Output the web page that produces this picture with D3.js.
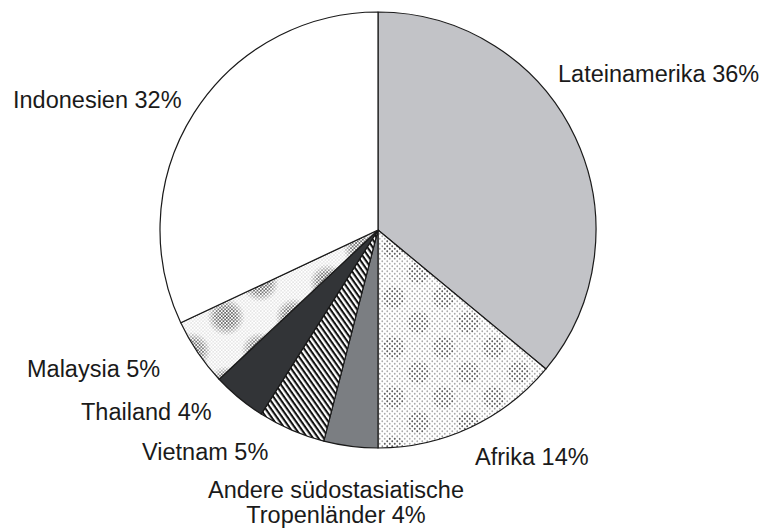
<!DOCTYPE html>
<html>
<head>
<meta charset="utf-8">
<script src="https://cdn.jsdelivr.net/npm/d3@7"></script>
<style>
  html, body { margin: 0; padding: 0; background: #fff; }
  svg { display: block; }
  text { font-family: "Liberation Sans", Arial, sans-serif; font-size: 23.5px; fill: #1a1a1a; }
</style>
</head>
<body>
<svg id="chart" width="778" height="530"></svg>
<script>
// Regions, in drawing order clockwise from twelve o'clock
const regions = ["Lateinamerika", "Afrika", "Andere südostasiatische Tropenländer",
                 "Vietnam", "Thailand", "Malaysia", "Indonesien"];
const shares = [36, 14, 4, 5, 4, 5, 32];
// Label lines for each region (the long one wraps onto two lines)
const labelLines = [
  ["Lateinamerika 36%"],
  ["Afrika 14%"],
  ["Andere südostasiatische", "Tropenländer 4%"],
  ["Vietnam 5%"],
  ["Thailand 4%"],
  ["Malaysia 5%"],
  ["Indonesien 32%"]
];

// Layout
const cx = 378, cy = 230, radius = 218;
const fills = ["#c2c3c7", "url(#afrika)", "#7b7e82", "url(#stripes)", "#323437", "url(#malaysia)", "#ffffff"];
// Label anchors: [x, baseline, text-anchor]
const labelPos = [
  [558, 82, "start"],
  [475, 465, "start"],
  [336, 498, "middle"],
  [142, 460, "start"],
  [81, 420, "start"],
  [27, 377, "start"],
  [13, 108, "start"]
];
const lineHeight = 25;

const svg = d3.select("#chart");
const defs = svg.append("defs");

// Fine dot screen for Afrika
const afrDots = defs.append("pattern").attr("id", "afrDots")
  .attr("patternUnits", "userSpaceOnUse").attr("width", 5).attr("height", 5);
afrDots.append("circle").attr("cx", 1.25).attr("cy", 1.25).attr("r", 0.9).attr("fill", "#444");
afrDots.append("circle").attr("cx", 3.75).attr("cy", 3.75).attr("r", 0.9).attr("fill", "#444");

// Afrika: dot screen modulated into soft blobs
const afr = defs.append("pattern").attr("id", "afrika")
  .attr("patternUnits", "userSpaceOnUse").attr("width", 50).attr("height", 50)
  .attr("x", cx).attr("y", cy);
afr.append("rect").attr("width", 50).attr("height", 50).attr("fill", "#fff");
afr.append("rect").attr("width", 50).attr("height", 50).attr("fill", "url(#afrDots)").attr("opacity", 0.45);
[[12.5, 12.5], [37.5, 37.5]].forEach(([x, y]) => {
  afr.append("circle").attr("cx", x).attr("cy", y).attr("r", 11)
    .attr("fill", "url(#afrDots)").attr("opacity", 0.75);
});

// Diagonal hatch for Vietnam
const stripes = defs.append("pattern").attr("id", "stripes")
  .attr("patternUnits", "userSpaceOnUse").attr("width", 4.4).attr("height", 4.4)
  .attr("patternTransform", "rotate(55)");
stripes.append("rect").attr("width", 4.4).attr("height", 4.4).attr("fill", "#fff");
stripes.append("rect").attr("width", 4.4).attr("height", 2.1).attr("fill", "#111");

// Fine checker screen for Malaysia
const malDots = defs.append("pattern").attr("id", "malDots")
  .attr("patternUnits", "userSpaceOnUse").attr("width", 3.4).attr("height", 3.4);
malDots.append("circle").attr("cx", 0.85).attr("cy", 0.85).attr("r", 0.9).attr("fill", "#444");
malDots.append("circle").attr("cx", 2.55).attr("cy", 2.55).attr("r", 0.9).attr("fill", "#444");

const mal = defs.append("pattern").attr("id", "malaysia")
  .attr("patternUnits", "userSpaceOnUse").attr("width", 68).attr("height", 68)
  .attr("x", 188).attr("y", 291);
mal.append("rect").attr("width", 68).attr("height", 68).attr("fill", "#fff");
mal.append("rect").attr("width", 68).attr("height", 68).attr("fill", "url(#malDots)").attr("opacity", 0.15);
const grad = defs.append("radialGradient").attr("id", "blobFade");
grad.append("stop").attr("offset", "0%").attr("stop-color", "#fff").attr("stop-opacity", 1);
grad.append("stop").attr("offset", "55%").attr("stop-color", "#fff").attr("stop-opacity", 0.8);
grad.append("stop").attr("offset", "100%").attr("stop-color", "#fff").attr("stop-opacity", 0);
const blobMask = defs.append("mask").attr("id", "blobMask")
  .attr("maskContentUnits", "userSpaceOnUse");
[[34, 34], [0, 0], [68, 0], [0, 68], [68, 68]].forEach(([x, y]) => {
  blobMask.append("circle").attr("cx", x).attr("cy", y).attr("r", 19).attr("fill", "url(#blobFade)");
});
mal.append("rect").attr("width", 68).attr("height", 68)
  .attr("fill", "url(#malDots)").attr("mask", "url(#blobMask)");

// Pie
const pie = d3.pie().value(d => d).sort(null).startAngle(0).endAngle(2 * Math.PI);
const arc = d3.arc().innerRadius(0).outerRadius(radius);
const arcs = pie(shares);

const g = svg.append("g").attr("transform", `translate(${cx},${cy})`);
g.selectAll("path.slice")
  .data(arcs)
  .join("path")
  .attr("class", "slice")
  .attr("d", arc)
  .attr("fill", (d, i) => fills[i])
  .attr("stroke", "#1a1a1a")
  .attr("stroke-width", 1.2)
  .attr("stroke-linejoin", "round");

// Labels
const labels = svg.append("g");
labelLines.forEach((lines, i) => {
  const [x, y, anchor] = labelPos[i];
  const t = labels.append("text").attr("x", x).attr("y", y).attr("text-anchor", anchor);
  lines.forEach((line, k) => {
    t.append("tspan").attr("x", x).attr("dy", k === 0 ? 0 : lineHeight).text(line);
  });
});
</script>
</body>
</html>
